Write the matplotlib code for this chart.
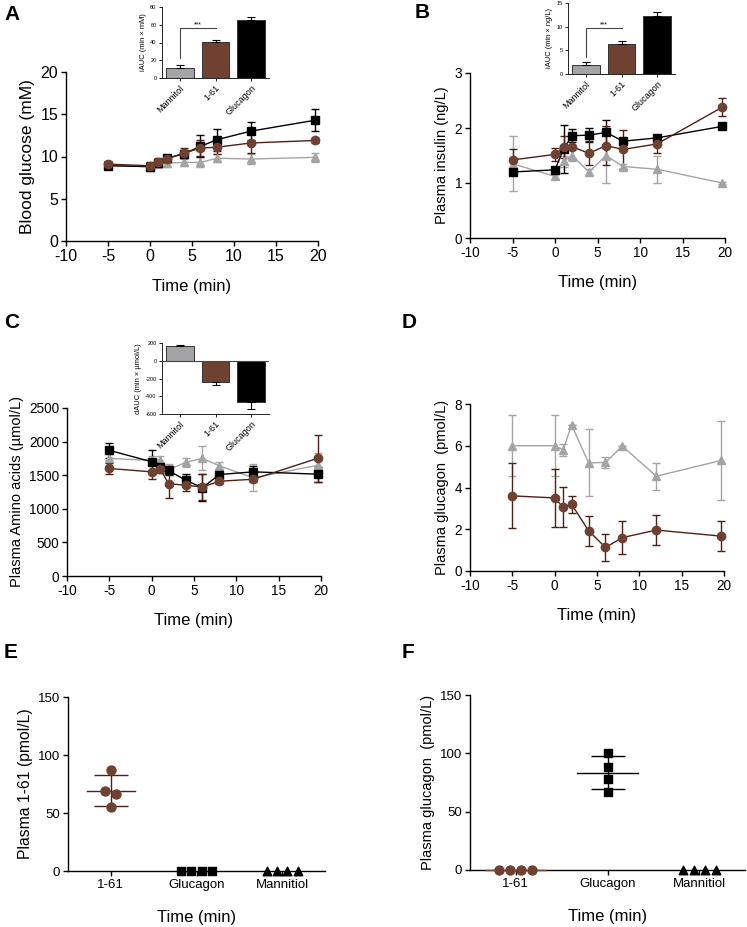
import matplotlib.pyplot as plt
import numpy as np

plt.rcParams['font.family'] = ['Liberation Sans', 'DejaVu Sans']
plt.rcParams['axes.unicode_minus'] = False

GREY = '#a4a4a7'
BROWN = '#6e4130'
BROWN_DK = '#4e2016'
BLACK = '#000000'

t = [-5, 0, 1, 2, 4, 6, 8, 12, 19.7]
groups = ['Mannitol', '1-61', 'Glucagon']

# A - blood glucose (mM)
glu_man = [9.0, 8.8, 9.1, 9.2, 9.3, 9.3, 9.8, 9.7, 9.9]
glu_man_err = [0.4, 0.4, 0.4, 0.5, 0.4, 0.6, 0.5, 0.6, 0.5]
glu_161 = [9.1, 8.9, 9.3, 9.7, 10.4, 11.0, 11.1, 11.6, 11.9]
glu_161_err = [0.4, 0.5, 0.5, 0.4, 0.6, 0.9, 0.8, 1.2, 0.3]
glu_glc = [8.9, 8.8, 9.2, 9.8, 10.3, 11.2, 12.0, 13.0, 14.3]
glu_glc_err = [0.3, 0.4, 0.3, 0.4, 0.4, 1.3, 1.3, 1.1, 1.3]
glu_auc = [11, 41, 65]
glu_auc_err = [3.5, 2.0, 4.0]

# B - plasma insulin (ng/L)
ins_man = [1.35, 1.12, 1.40, 1.50, 1.20, 1.50, 1.30, 1.25, 1.00]
ins_man_err = [0.50, 0.05, 0.10, 0.10, 0.05, 0.50, 0.05, 0.25, 0.02]
ins_161 = [1.42, 1.52, 1.65, 1.66, 1.54, 1.68, 1.61, 1.71, 2.38]
ins_161_err = [0.20, 0.12, 0.20, 0.20, 0.22, 0.35, 0.35, 0.17, 0.16]
ins_glc = [1.20, 1.24, 1.62, 1.86, 1.87, 1.92, 1.76, 1.82, 2.03]
ins_glc_err = [0.03, 0.03, 0.44, 0.12, 0.13, 0.22, 0.03, 0.03, 0.02]
ins_auc = [2.0, 6.4, 12.3]
ins_auc_err = [0.6, 0.6, 0.8]

# C - plasma amino acids (umol/L)
aa_man = [1750, 1720, 1730, 1580, 1690, 1750, 1640, 1460, 1650]
aa_man_err = [60, 60, 60, 80, 70, 180, 50, 200, 180]
aa_161 = [1600, 1550, 1590, 1375, 1350, 1325, 1410, 1440, 1755]
aa_161_err = [80, 100, 60, 210, 80, 200, 40, 40, 350]
aa_glc = [1870, 1700, 1620, 1570, 1425, 1315, 1510, 1550, 1515]
aa_glc_err = [110, 170, 60, 60, 100, 200, 40, 80, 110]
aa_auc = [165, -240, -470]
aa_auc_err = [15, 35, 70]

# D - plasma glucagon (pmol/L)
gcg_man = [6.0, 6.0, 5.8, 7.0, 5.18, 5.2, 5.98, 4.54, 5.3]
gcg_man_err = [1.45, 1.45, 0.3, 0.0, 1.6, 0.25, 0.0, 0.65, 1.9]
gcg_161 = [3.6, 3.5, 3.06, 3.2, 1.93, 1.13, 1.6, 1.96, 1.67]
gcg_161_err = [1.55, 1.4, 0.95, 0.4, 0.72, 0.65, 0.8, 0.7, 0.73]

# E / F - individual end-point values
cats = ['1-61', 'Glucagon', 'Mannitiol']
e_161 = [87, 69, 66, 55]
e_161_dx = [0.0, -0.07, 0.06, 0.0]
f_glc = [100, 88, 78, 67]
zeros = [0, 0, 0, 0]
row_dx = [-0.18, -0.06, 0.06, 0.18]

W, H = 747, 927
fig = plt.figure(figsize=(W / 100, H / 100), dpi=100)


def ax_px(left, right, top, bottom):
    return fig.add_axes([left / W, 1 - bottom / H, (right - left) / W, (bottom - top) / H])


def style(ax, fs):
    for s in ['top', 'right']:
        ax.spines[s].set_visible(False)
    for s in ['left', 'bottom']:
        ax.spines[s].set_linewidth(1.0)
    ax.tick_params(direction='out', length=3.5, width=1.0, labelsize=fs, pad=2)


def series(ax, y, err, mk, fc, lc, ec, ms=6):
    ax.errorbar(t, y, yerr=err, color=lc, lw=1.0, marker=mk, ms=ms, mfc=fc, mec=fc,
                ecolor=ec, elinewidth=1.0, capsize=3, capthick=1.0, clip_on=False)


def time_panel(ax, ylim, yticks, ylabel, fs_tick, fs_lab):
    style(ax, fs_tick)
    ax.set_xlim(-10, 20)
    ax.set_xticks([-10, -5, 0, 5, 10, 15, 20])
    ax.set_ylim(*ylim)
    ax.set_yticks(yticks)
    ax.set_ylabel(ylabel, fontsize=fs_lab, labelpad=4)
    ax.set_xlabel('Time (min)', fontsize=12, labelpad=11)


def inset(ax, vals, errs, ylim, yticks, ylabel):
    style(ax, 4)
    ax.tick_params(length=2, width=0.6)
    ax.spines['left'].set_linewidth(0.6)
    ax.spines['bottom'].set_linewidth(0.6)
    x = np.arange(3)
    ax.bar(x, vals, width=0.78, color=[GREY, BROWN, BLACK], edgecolor='#333333', lw=0.7, zorder=2)
    for xi, v, e in zip(x, vals, errs):
        sign = 1 if v >= 0 else -1
        ax.errorbar(xi, v, yerr=[[0], [e]] if sign > 0 else [[e], [0]], color=BLACK,
                    elinewidth=0.8, capsize=3, capthick=0.8, zorder=3)
    ax.set_xlim(-0.5, 2.5)
    ax.set_ylim(*ylim)
    ax.set_yticks(yticks)
    ax.set_xticks(x)
    ax.set_xticklabels(groups, rotation=45, ha='right', rotation_mode='anchor', fontsize=6.5)
    ax.set_ylabel(ylabel, fontsize=5.4, labelpad=2)


def sig(ax, x0, x1, ylow, ytop):
    ax.plot([x0, x0, x1], [ylow, ytop, ytop], color='#444444', lw=0.8)
    ax.text((x0 + x1) / 2, ytop, '***', ha='center', va='bottom', fontsize=5)


# ---- A ----
axA = ax_px(66, 318, 72, 241)
series(axA, glu_man, glu_man_err, '^', GREY, GREY, GREY)
series(axA, glu_glc, glu_glc_err, 's', BLACK, BLACK, BLACK)
series(axA, glu_161, glu_161_err, 'o', BROWN, BROWN_DK, BROWN_DK)
time_panel(axA, (0, 20), [0, 5, 10, 15, 20], 'Blood glucose (mM)', 11.5, 12.5)

inA = ax_px(162, 269, 7, 78)
inset(inA, glu_auc, glu_auc_err, (0, 80), [0, 20, 40, 60, 80], 'iAUC (min × mM)')
sig(inA, 0, 1, 22, 56)

# ---- B ----
axB = ax_px(470, 725, 73, 238)
series(axB, ins_man, ins_man_err, '^', GREY, GREY, GREY)
series(axB, ins_glc, ins_glc_err, 's', BLACK, BLACK, BLACK)
series(axB, ins_161, ins_161_err, 'o', BROWN, BROWN_DK, BROWN_DK)
time_panel(axB, (0, 3), [0, 1, 2, 3], 'Plasma insulin (ng/L)', 9.8, 10.5)

inB = ax_px(568, 675, 3, 74)
inset(inB, ins_auc, ins_auc_err, (0, 15), [0, 5, 10, 15], 'iAUC (min × ng/L)')
sig(inB, 0, 1, 3.5, 9.7)

# ---- C ----
axC = ax_px(67, 321, 408, 576)
series(axC, aa_man, aa_man_err, '^', GREY, GREY, GREY)
series(axC, aa_glc, aa_glc_err, 's', BLACK, BLACK, BLACK)
series(axC, aa_161, aa_161_err, 'o', BROWN, BROWN_DK, BROWN_DK)
time_panel(axC, (0, 2500), [0, 500, 1000, 1500, 2000, 2500], 'Plasma Amino acids (µmol/L)', 9.8, 10.5)

inC = ax_px(162, 269, 343, 414)
inset(inC, aa_auc, aa_auc_err, (-600, 200), [-600, -400, -200, 0, 200], 'dAUC (min × µmol/L)')
inC.axhline(0, color='#444444', lw=0.8, zorder=4)

# ---- D ----
axD = ax_px(470, 724, 404, 571)
series(axD, gcg_man, gcg_man_err, '^', GREY, GREY, GREY)
series(axD, gcg_161, gcg_161_err, 'o', BROWN, BROWN_DK, BROWN_DK)
time_panel(axD, (0, 8), [0, 2, 4, 6, 8], 'Plasma glucagon  (pmol/L)', 9.8, 10.5)


# ---- E / F ----
def dot_panel(ax, ylabel, fs_lab):
    style(ax, 9.5)
    ax.set_xlim(-0.5, 2.5)
    ax.set_ylim(0, 150)
    ax.set_yticks([0, 50, 100, 150])
    ax.set_xticks([0, 1, 2])
    ax.set_xticklabels(cats, fontsize=9.5)
    ax.set_ylabel(ylabel, fontsize=fs_lab, labelpad=4)
    ax.set_xlabel('Time (min)', fontsize=12, labelpad=14)


def mean_sd(ax, x, vals, color, half):
    m, sd = np.mean(vals), np.std(vals, ddof=1)
    ax.plot([x - half, x + half], [m, m], color=color, lw=1.0, zorder=3)
    ax.errorbar(x, m, yerr=sd, color=color, elinewidth=1.0, capsize=12, capthick=1.0, zorder=3)


axE = ax_px(68, 325, 697, 871)
dot_panel(axE, 'Plasma 1-61 (pmol/L)', 11.3)
axE.scatter(np.array(e_161_dx) + 0, e_161, s=42, color=BROWN, zorder=4)
mean_sd(axE, 0, e_161, BROWN_DK, 0.28)
axE.scatter(np.array(row_dx) + 1, zeros, s=38, marker='s', color=BLACK, zorder=4, clip_on=False)
axE.scatter(np.array(row_dx) + 2, zeros, s=38, marker='^', color=BLACK, zorder=4, clip_on=False)

axF = ax_px(470, 745, 695, 870)
dot_panel(axF, 'Plasma glucagon  (pmol/L)', 10.5)
axF.plot([-0.33, 0.33], [0, 0], color=BROWN, lw=1.0, zorder=3, clip_on=False)
axF.scatter(np.array(row_dx) + 0, zeros, s=42, color=BROWN, zorder=4, clip_on=False)
axF.scatter([1, 1, 1, 1], f_glc, s=38, marker='s', color=BLACK, zorder=4)
mean_sd(axF, 1, f_glc, BLACK, 0.33)
axF.scatter(np.array(row_dx) + 2, zeros, s=38, marker='^', color=BLACK, zorder=4, clip_on=False)

# panel letters
for lab, x, y in [('A', 4, 14), ('B', 415, 12), ('C', 4, 322), ('D', 402, 322),
                  ('E', 4, 652), ('F', 402, 652)]:
    fig.text(x / W, 1 - y / H, lab, fontsize=15, fontweight='bold', va='center', ha='left')

fig.savefig('out.png', dpi=100)
